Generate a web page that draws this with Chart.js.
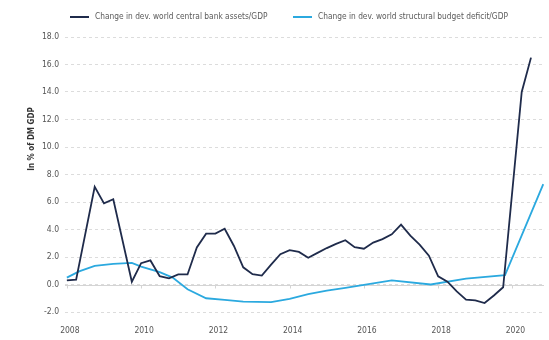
<!DOCTYPE html>
<html>
<head>
<meta charset="utf-8">
<script src="https://cdn.jsdelivr.net/npm/chart.js@4.4.1/dist/chart.umd.min.js"></script>
<style>
  html, body { margin: 0; padding: 0; background: #fff; }
  #wrap { position: relative; width: 549px; height: 340px; }
</style>
</head>
<body>
<div id="wrap"><canvas id="chart"></canvas></div>
<script>
// Series labels
const seriesNames = [
    'Change in dev. world central bank assets/GDP',
    'Change in dev. world structural budget deficit/GDP'
];
const seriesColors = ['#1f2b4b', '#2ba9df'];

// Change in dev. world central bank assets/GDP (quarterly)
const bankDates = [
    2008.0, 2008.25, 2008.75, 2009.0, 2009.25, 2009.75, 2010.0, 2010.25, 2010.5, 2010.75,
    2011.0, 2011.25, 2011.5, 2011.75, 2012.0, 2012.25, 2012.5, 2012.75, 2013.0, 2013.25,
    2013.5, 2013.75, 2014.0, 2014.25, 2014.5, 2014.75, 2015.0, 2015.25, 2015.5, 2015.75,
    2016.0, 2016.25, 2016.5, 2016.75, 2017.0, 2017.25, 2017.5, 2017.75, 2018.0, 2018.25,
    2018.5, 2018.75, 2019.0, 2019.25, 2019.5, 2019.75, 2020.25, 2020.5
];
const bankValues = [
    0.3, 0.35, 7.1, 5.9, 6.2, 0.2, 1.55, 1.75, 0.6, 0.45,
    0.73, 0.73, 2.7, 3.7, 3.7, 4.05, 2.8, 1.25, 0.75, 0.65,
    1.45, 2.2, 2.5, 2.37, 1.95, 2.3, 2.65, 2.95, 3.22, 2.72,
    2.6, 3.05, 3.3, 3.65, 4.35, 3.55, 2.9, 2.1, 0.6, 0.2,
    -0.5, -1.1, -1.15, -1.35, -0.8, -0.2, 14.0, 16.5
];

// Change in dev. world structural budget deficit/GDP
const deficitDates = [
    2008.0, 2008.33, 2008.75, 2009.25, 2009.75, 2010.0, 2010.5, 2010.85, 2011.25, 2011.75,
    2012.25, 2012.75, 2013.5, 2014.0, 2014.5, 2015.0, 2015.5, 2016.0, 2016.75, 2017.8,
    2018.75, 2019.8, 2020.83
];
const deficitValues = [
    0.5, 0.95, 1.35, 1.5, 1.57, 1.3, 0.9, 0.5, -0.35, -1.0,
    -1.12, -1.25, -1.28, -1.05, -0.7, -0.45, -0.25, -0.02, 0.3, 0.0,
    0.42, 0.68, 7.3
];

const yearTicks = [2008, 2010, 2012, 2014, 2016, 2018, 2020];
const yTicks = [-2, 0, 2, 4, 6, 8, 10, 12, 14, 16, 18];
const yTitle = 'In % of DM GDP';

const FONT = '"Liberation Sans Narrow", "DejaVu Sans Condensed", "Liberation Sans", Arial, sans-serif';

const toPoints = (xs, ys) => xs.map((d, i) => ({ x: d, y: ys[i] }));

// zero line, year ticks, legend and axis title
const chartDecor = {
    id: 'chartDecor',
    beforeDatasetsDraw(chart) {
        const { ctx, chartArea, scales: { x, y } } = chart;
        const y0 = Math.round(y.getPixelForValue(0)) + 0.5;
        ctx.save();
        ctx.strokeStyle = '#d4d4d4';
        ctx.lineWidth = 1;
        ctx.beginPath();
        ctx.moveTo(chartArea.left, y0);
        ctx.lineTo(chartArea.right, y0);
        yearTicks.forEach(v => {
            const px = Math.round(x.getPixelForValue(v)) + 0.5;
            ctx.moveTo(px, y0);
            ctx.lineTo(px, y0 + 3);
        });
        ctx.stroke();
        ctx.restore();
    },
    afterDraw(chart) {
        const { ctx } = chart;
        ctx.save();
        // legend
        const items = [{ x: 70 }, { x: 293 }];
        ctx.font = '8.3px ' + FONT;
        ctx.textBaseline = 'middle';
        ctx.textAlign = 'left';
        items.forEach((it, i) => {
            ctx.strokeStyle = seriesColors[i];
            ctx.lineWidth = 2;
            ctx.beginPath();
            ctx.moveTo(it.x, 17);
            ctx.lineTo(it.x + 19, 17);
            ctx.stroke();
            ctx.fillStyle = '#5a5a5a';
            ctx.fillText(seriesNames[i], it.x + 25, 17);
        });
        // y axis title
        ctx.translate(32, 139);
        ctx.rotate(-Math.PI / 2);
        ctx.textAlign = 'center';
        ctx.font = 'bold 8px ' + FONT;
        ctx.fillStyle = '#333';
        ctx.fillText(yTitle, 0, 0);
        ctx.restore();
    }
};

new Chart(document.getElementById('chart'), {
    type: 'line',
    data: {
        datasets: [
            {
                label: seriesNames[0],
                data: toPoints(bankDates, bankValues),
                borderColor: seriesColors[0],
                borderWidth: 1.8,
                pointRadius: 0,
                tension: 0
            },
            {
                label: seriesNames[1],
                data: toPoints(deficitDates, deficitValues),
                borderColor: seriesColors[1],
                borderWidth: 1.8,
                pointRadius: 0,
                tension: 0
            }
        ]
    },
    options: {
        responsive: true,
        maintainAspectRatio: false,
        animation: false,
        layout: { padding: { top: 37, right: 5, bottom: 3, left: 0 } },
        plugins: {
            legend: { display: false },
            tooltip: { enabled: false }
        },
        scales: {
            x: {
                type: 'linear',
                min: 2007.95,
                max: 2020.85,
                afterFit: scale => { scale.height = 25; },
                grid: { display: false, drawTicks: false },
                border: { display: false },
                afterBuildTicks: axis => { axis.ticks = yearTicks.map(v => ({ value: v })); },
                ticks: {
                    padding: 14,
                    labelOffset: 3,
                    maxRotation: 0,
                    color: '#555',
                    font: { family: FONT, size: 8.5 },
                    callback: v => String(v)
                }
            },
            y: {
                min: -2,
                max: 18,
                afterFit: scale => { scale.width = 65; },
                afterBuildTicks: axis => { axis.ticks = yTicks.map(v => ({ value: v })); },
                grid: { color: '#dcdcdc', lineWidth: 1, drawTicks: false },
                border: { display: false, dash: [3, 3] },
                ticks: {
                    padding: 6,
                    color: '#555',
                    font: { family: FONT, size: 8.5 },
                    callback: v => v.toFixed(1)
                }
            }
        }
    },
    plugins: [chartDecor]
});
</script>
</body>
</html>
